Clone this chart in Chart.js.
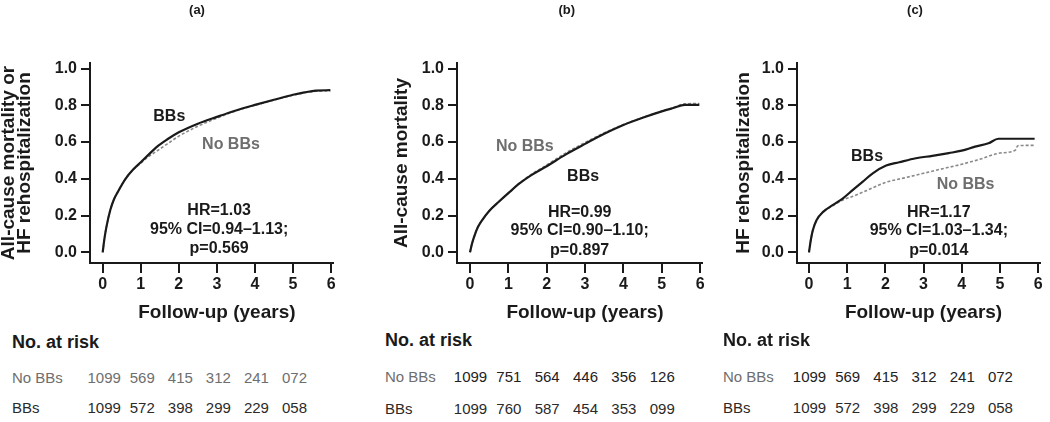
<!DOCTYPE html>
<html><head><meta charset="utf-8">
<script src="https://cdn.jsdelivr.net/npm/chart.js@4.4.0/dist/chart.umd.min.js"></script>
<style>
html,body{margin:0;padding:0;background:#fff;}
#wrap{position:relative;width:1050px;height:422px;overflow:hidden;font-family:"Liberation Sans",Arial,sans-serif;}
canvas{position:absolute;top:0;}
.c{position:absolute;white-space:nowrap;transform:translate(-50%,-50%);line-height:1;}
.l{position:absolute;white-space:nowrap;transform:translateY(-50%);line-height:1;}
</style></head><body><div id="wrap"></div>
<script>
// ---------- data ----------
const panelTitles = ['(a)', '(b)', '(c)'];
const yTitles = [['All-cause mortality or', 'HF rehospitalization'], 'All-cause mortality', 'HF rehospitalization'];
const xTitle = 'Follow-up (years)';
const seriesNames = ['BBs', 'No BBs'];
const xTicks = [0, 1, 2, 3, 4, 5, 6];
const yTicks = [0, 0.2, 0.4, 0.6, 0.8, 1.0];
const riskHeader = 'No. at risk';
const riskTimes = [0, 1, 2, 3, 4, 5];

// panel (a): all-cause mortality or HF rehospitalization
const timeA = [0, 0.05, 0.1, 0.2, 0.3, 0.4, 0.6, 0.8, 1.0, 1.2, 1.4, 1.7, 2.0, 2.5, 3.0, 3.5, 4.0, 4.5, 5.0, 5.3, 5.6, 5.98];
const bbA   = [0, 0.08, 0.14, 0.23, 0.29, 0.33, 0.40, 0.45, 0.49, 0.53, 0.57, 0.615, 0.653, 0.70, 0.737, 0.772, 0.802, 0.830, 0.857, 0.870, 0.880, 0.882];
const noA   = [0, 0.08, 0.14, 0.23, 0.29, 0.33, 0.40, 0.45, 0.485, 0.52, 0.548, 0.59, 0.632, 0.686, 0.73, 0.77, 0.80, 0.828, 0.855, 0.868, 0.876, 0.878];
const statsA = ['HR=1.03', '95% CI=0.94\u20131.13;', 'p=0.569'];
const riskNoA = ['1099', '569', '415', '312', '241', '072'];
const riskBbA = ['1099', '572', '398', '299', '229', '058'];

// panel (b): all-cause mortality
const timeB = [0, 0.05, 0.1, 0.2, 0.3, 0.5, 0.75, 1.0, 1.3, 1.6, 2.0, 2.5, 3.0, 3.5, 4.0, 4.5, 5.0, 5.3, 5.6, 5.98];
const bbB   = [0, 0.045, 0.08, 0.135, 0.17, 0.225, 0.275, 0.322, 0.376, 0.42, 0.468, 0.533, 0.59, 0.645, 0.693, 0.732, 0.767, 0.785, 0.802, 0.802];
const noB   = [0, 0.045, 0.08, 0.135, 0.17, 0.225, 0.275, 0.322, 0.378, 0.424, 0.475, 0.541, 0.597, 0.65, 0.695, 0.733, 0.768, 0.787, 0.808, 0.809];
const statsB = ['HR=0.99', '95% CI=0.90\u20131.10;', 'p=0.897'];
const riskNoB = ['1099', '751', '564', '446', '356', '126'];
const riskBbB = ['1099', '760', '587', '454', '353', '099'];

// panel (c): HF rehospitalization
const timeC = [0, 0.05, 0.1, 0.2, 0.37, 0.63, 0.89, 1.15, 1.41, 1.67, 2.02, 2.36, 2.8, 3.23, 3.66, 4.0, 4.35, 4.7, 4.96, 5.45, 5.91];
const bbC   = [0, 0.07, 0.12, 0.176, 0.22, 0.258, 0.294, 0.34, 0.385, 0.43, 0.472, 0.49, 0.512, 0.525, 0.54, 0.553, 0.575, 0.593, 0.618, 0.618, 0.618];
const timeC2 = [0, 0.05, 0.1, 0.2, 0.37, 0.63, 0.89, 1.15, 1.5, 2.0, 2.5, 3.0, 3.5, 4.0, 4.5, 5.0, 5.4, 5.47, 5.91];
const noC   = [0, 0.07, 0.12, 0.176, 0.22, 0.255, 0.285, 0.305, 0.335, 0.38, 0.405, 0.43, 0.455, 0.479, 0.508, 0.54, 0.555, 0.58, 0.582];
const statsC = ['HR=1.17', '95% CI=1.03\u20131.34;', 'p=0.014'];
const riskNoC = ['1099', '569', '415', '312', '241', '072'];
const riskBbC = ['1099', '572', '398', '299', '229', '058'];

// ---------- layout / style ----------
const FONT = '"Liberation Sans", Arial, sans-serif';
const BLACK = '#1a1a1a', GRAY_LINE = '#8a8a8a', GRAY_TXT = '#6e6e6e';
const panels = [
  {time: [timeA, timeA], vals: [bbA, noA], stats: statsA, riskNo: riskNoA, riskBb: riskBbA,
   left: 0, width: 350, yWidth: 90, padRight: 17, xMin: -0.333, yTitlePad: 0.8, titleX: 197,
   labelPos: [[1.75, 0.739], [3.37, 0.588]], statsPos: [3.06, [0.226, 0.122, 0.022]],
   riskX: 12, riskHeadY: 342, riskNoY: 376.5, riskBbY: 406.5, noNumColor: GRAY_TXT, numShift: 1.5},
  {time: [timeB, timeB], vals: [bbB, noB], stats: statsB, riskNo: riskNoB, riskBb: riskBbB,
   left: 350, width: 360, yWidth: 107, padRight: 8, xMin: -0.339, yTitlePad: 44, titleX: 566.7,
   labelPos: [[2.95, 0.413], [1.43, 0.576]], statsPos: [2.86, [0.217, 0.117, 0.01]],
   riskX: 385, riskHeadY: 340, riskNoY: 376, riskBbY: 407.5, noNumColor: '#222', numShift: 0.5},
  {time: [timeC, timeC2], vals: [bbC, noC], stats: statsC, riskNo: riskNoC, riskBb: riskBbC,
   left: 700, width: 350, yWidth: 97, padRight: 10, xMin: -0.314, yTitlePad: 35.7, titleX: 915,
   labelPos: [[1.52, 0.522], [4.10, 0.371]], statsPos: [3.40, [0.217, 0.117, 0.01]],
   riskX: 723, riskHeadY: 340, riskNoY: 376, riskBbY: 407, noNumColor: '#222', numShift: 0.5}
];

const wrap = document.getElementById('wrap');
function addText(cls, txt, x, y, css) {
  const d = document.createElement('div');
  d.className = cls; d.textContent = txt;
  d.style.left = x + 'px'; d.style.top = y + 'px';
  Object.assign(d.style, css || {});
  wrap.appendChild(d);
  return d;
}

const annotPlugin = {
  id: 'kmAnnot',
  afterDatasetsDraw(chart, args, opts) {
    const p = opts.panel; const ctx = chart.ctx;
    const xs = chart.scales.x, ys = chart.scales.y;
    ctx.save();
    ctx.textAlign = 'center'; ctx.textBaseline = 'middle';
    ctx.font = 'bold 16px ' + FONT;
    const colors = [BLACK, GRAY_TXT];
    seriesNames.forEach((n, i) => {
      ctx.fillStyle = colors[i];
      ctx.fillText(n, xs.getPixelForValue(p.labelPos[i][0]), ys.getPixelForValue(p.labelPos[i][1]));
    });
    ctx.fillStyle = BLACK;
    p.stats.forEach((s, i) => {
      ctx.fillText(s, xs.getPixelForValue(p.statsPos[0]), ys.getPixelForValue(p.statsPos[1][i]));
    });
    // x-axis title centred over the 0..6 data range
    ctx.font = 'bold 19px ' + FONT;
    ctx.fillText(xTitle, (xs.getPixelForValue(xTicks[0]) + xs.getPixelForValue(xTicks[xTicks.length - 1])) / 2, 313);
    ctx.restore();
  }
};

panels.forEach((p, idx) => {
  const cv = document.createElement('canvas');
  cv.width = p.width; cv.height = 323;
  cv.style.left = p.left + 'px';
  cv.style.width = p.width + 'px'; cv.style.height = '323px';
  wrap.appendChild(cv);
  const tickFont = {family: FONT, size: 16, weight: 'bold'};
  const chart = new Chart(cv, {
    type: 'line',
    data: {
      datasets: seriesNames.map((n, i) => ({
        label: n,
        data: p.time[i].map((t, k) => ({x: t, y: p.vals[i][k]})),
        borderColor: i === 0 ? BLACK : GRAY_LINE,
        borderWidth: i === 0 ? 2.2 : 1.6,
        borderDash: i === 0 ? [] : [3, 2],
        pointRadius: 0,
        cubicInterpolationMode: 'monotone',
        fill: false
      }))
    },
    options: {
      responsive: false, animation: false, devicePixelRatio: 1,
      layout: {padding: {top: 63, right: p.padRight, left: 0, bottom: 0}},
      plugins: {legend: {display: false}, tooltip: {enabled: false}, kmAnnot: {panel: p}},
      scales: {
        x: {
          type: 'linear', min: p.xMin, max: 6.05,
          afterBuildTicks: s => { s.ticks = xTicks.map(v => ({value: v})); },
          afterFit: s => { s.height = 60; },
          ticks: {font: tickFont, color: BLACK, padding: 2, autoSkip: false, maxRotation: 0, callback: v => String(v)},
          grid: {drawOnChartArea: false, drawTicks: true, tickLength: 10, color: BLACK, lineWidth: 2},
          border: {display: true, color: BLACK, width: 2}
        },
        y: {
          type: 'linear', min: -0.058, max: 1.03,
          afterBuildTicks: s => { s.ticks = yTicks.map(v => ({value: v})); },
          afterFit: s => { s.width = p.yWidth; },
          ticks: {font: tickFont, color: BLACK, padding: 4, autoSkip: false, callback: v => Number(v).toFixed(1)},
          grid: {drawOnChartArea: false, drawTicks: true, tickLength: 9, color: BLACK, lineWidth: 2},
          border: {display: true, color: BLACK, width: 2},
          title: {display: true, text: yTitles[idx], color: BLACK,
                  font: {family: FONT, size: 19, weight: 'bold', lineHeight: '16px'},
                  padding: {top: p.yTitlePad, bottom: 0}}
        }
      }
    },
    plugins: [annotPlugin]
  });

  // panel title
  addText('c', panelTitles[idx], p.titleX, 9, {fontSize: '13px', fontWeight: 'bold', color: BLACK});
  // risk table
  addText('l', riskHeader, p.riskX, p.riskHeadY, {fontSize: '18px', fontWeight: 'bold', color: BLACK});
  addText('l', seriesNames[1], p.riskX, p.riskNoY, {fontSize: '15px', color: GRAY_TXT});
  addText('l', seriesNames[0], p.riskX, p.riskBbY, {fontSize: '15px', color: '#2a2a2a'});
  const xs = chart.scales.x;
  riskTimes.forEach((t, k) => {
    const px = p.left + xs.getPixelForValue(t) + p.numShift;
    addText('c', p.riskNo[k], px, p.riskNoY, {fontSize: '15px', color: p.noNumColor});
    addText('c', p.riskBb[k], px, p.riskBbY, {fontSize: '15px', color: '#2a2a2a'});
  });
});
</script></body></html>
